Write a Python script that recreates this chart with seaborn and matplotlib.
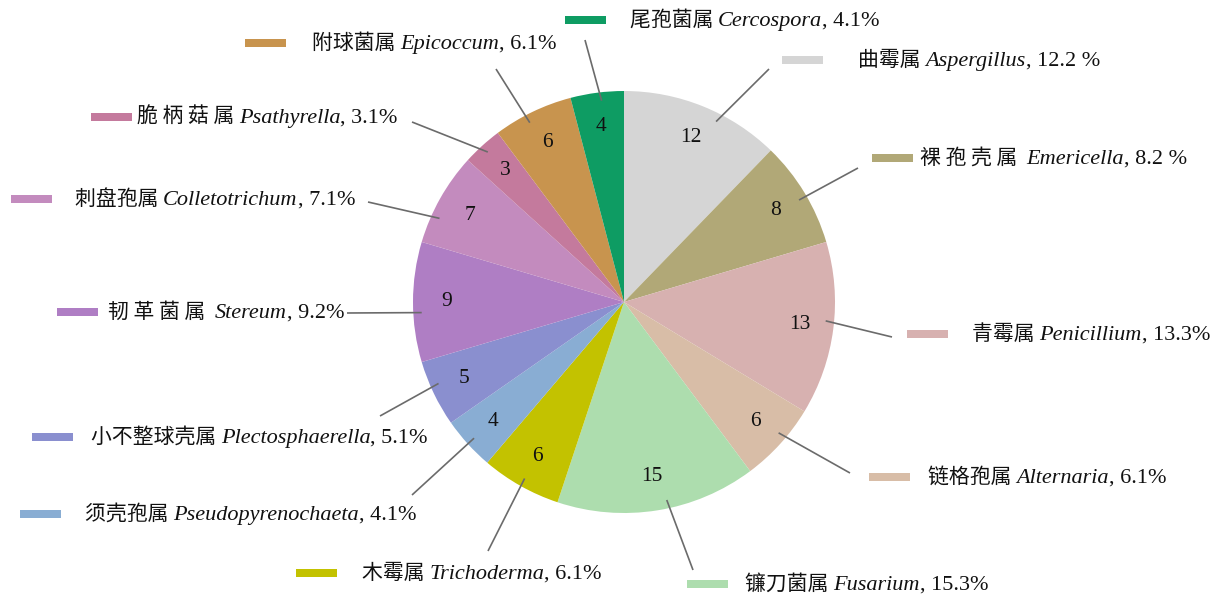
import matplotlib
matplotlib.use("Agg")
import matplotlib.pyplot as plt
import seaborn as sns
import numpy as np
from matplotlib.patches import Rectangle
from matplotlib.offsetbox import TextArea, HPacker, AnnotationBbox

# genus data, clockwise from 12 o'clock
genus_cn = ['曲霉属', '裸 孢 壳 属', '青霉属', '链格孢属', '镰刀菌属', '木霉属', '须壳孢属',
            '小不整球壳属', '韧 革 菌 属', '刺盘孢属', '脆 柄 菇 属', '附球菌属', '尾孢菌属']
genus_latin = ['Aspergillus', 'Emericella', 'Penicillium', 'Alternaria', 'Fusarium',
               'Trichoderma', 'Pseudopyrenochaeta', 'Plectosphaerella', 'Stereum',
               'Colletotrichum', 'Psathyrella', 'Epicoccum', 'Cercospora']
counts = [12, 8, 13, 6, 15, 6, 4, 5, 9, 7, 3, 6, 4]
pct_text = ['12.2 %', '8.2 %', '13.3%', '6.1%', '15.3%', '6.1%', '4.1%',
            '5.1%', '9.2%', '7.1%', '3.1%', '6.1%', '4.1%']
slice_colors = ['#D5D5D5', '#B1A877', '#D7B1B0', '#D8BDA7', '#ADDDAE', '#C3C200', '#89ADD3',
                '#8A8FCF', '#AF7EC4', '#C38BBE', '#C47A9D', '#C8944E', '#0E9C63']

# layout in pixels (x from left, y from top): legend bar x, row y, text x, leader end
W, H = 1218, 598
bar_x = [782, 872, 907, 869, 687, 296, 20, 32, 57, 11, 91, 245, 565]
row_y = [60, 158, 334, 477, 584, 573, 514, 437, 312, 199, 117, 43, 20]
text_x = [858, 920, 972, 928, 745, 362, 85, 91, 108, 75, 137, 312, 630]
gap_cn = [' ', '  ', ' ', ' ', ' ', ' ', ' ', ' ', '  ', ' ', ' ', ' ', ' ']
lead_end = [(769, 69), (858, 168), (892, 337), (850, 473), (693, 570), (488, 551),
            (412, 495), (380, 416), (347, 313), (368, 202), (412, 122), (496, 69), (585, 40)]
lead_shift = [5, 1, -2, -2, -3, 0, 0, 2, -3, -5, 0, -2, 1]  # degrees off the wedge middle
cx, cy, R = 624, H - 302, 211

sns.set_theme(style="white")
serif = ['Liberation Serif', 'Noto Sans CJK SC']
cjk = ['Noto Sans CJK SC', 'Liberation Serif']
ink = '#111111'

fig = plt.figure(figsize=(W / 100, H / 100), dpi=100)
ax = fig.add_axes([0, 0, 1, 1])

total = sum(counts)
palette = sns.color_palette(slice_colors)
wedges, _, nums = ax.pie(counts, colors=palette, startangle=90, counterclock=False,
                         center=(cx, cy), radius=R, frame=True,
                         autopct=lambda p: f"{p * total / 100:.0f}", pctdistance=0.84,
                         wedgeprops=dict(linewidth=0),
                         textprops=dict(family=serif, size=15.5, color=ink))
ax.set_xlim(0, W)
ax.set_ylim(0, H)
ax.set_aspect('equal')
ax.axis('off')

for i, w in enumerate(wedges):
    mid = np.deg2rad((w.theta1 + w.theta2) / 2 - lead_shift[i])
    x0, y0 = cx + 0.96 * R * np.cos(mid), cy + 0.96 * R * np.sin(mid)
    ex, ey = lead_end[i]
    ax.plot([x0, ex], [y0, H - ey], color='#6B6B6B', lw=1.2, solid_capstyle='butt')

    ax.add_patch(Rectangle((bar_x[i], H - row_y[i] - 4), 41, 8,
                           facecolor=slice_colors[i], edgecolor='none'))
    parts = [TextArea(genus_cn[i] + gap_cn[i], textprops=dict(family=cjk, size=15, color=ink)),
             TextArea(genus_latin[i], textprops=dict(family=serif, style='italic', size=16,
                                                     color=ink)),
             TextArea(', ' + pct_text[i], textprops=dict(family=serif, size=16, color=ink))]
    box = HPacker(children=parts, align='baseline', pad=0, sep=0)
    ab = AnnotationBbox(box, (text_x[i], H - row_y[i]), xycoords='data',
                        box_alignment=(0, 0.5), frameon=False, pad=0)
    ax.add_artist(ab)

fig.savefig('out.png', dpi=100)
